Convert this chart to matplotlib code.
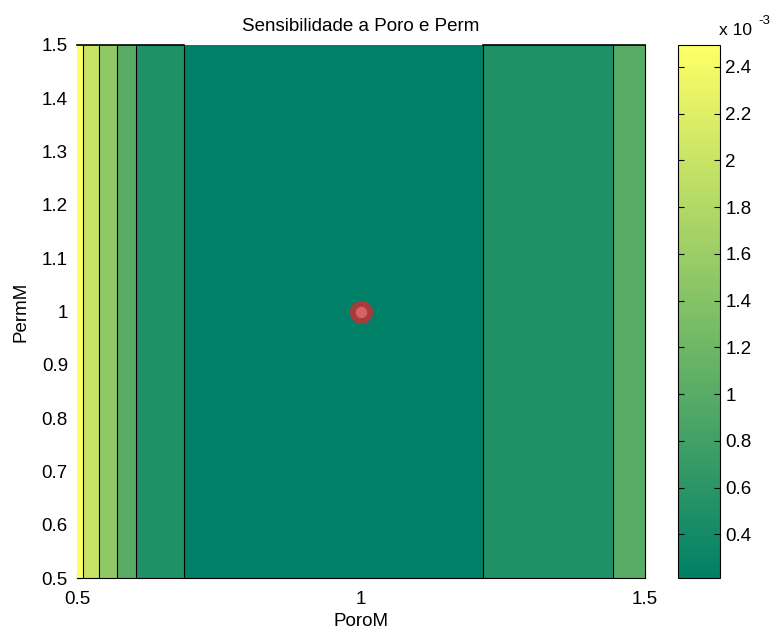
import numpy as np
import matplotlib
matplotlib.use("Agg")
import matplotlib.pyplot as plt
from matplotlib.colors import Normalize
from matplotlib.cm import ScalarMappable

plt.rcParams['font.family'] = ['Liberation Sans', 'DejaVu Sans']

# misfit (x 1e-3) as a function of PoroM, constant along PermM
poro = [0.5, 0.52, 0.54, 0.56, 0.58, 0.6, 0.65, 0.7, 0.8, 0.9, 1.0, 1.1, 1.2, 1.3, 1.4, 1.5]
misfit = [2.494, 2.41, 1.99, 1.72, 1.32, 1.03, 0.70, 0.44, 0.30, 0.24, 0.213, 0.28, 0.47, 0.68, 0.88, 1.15]
perm = [0.5, 1.0, 1.5]
levels = [0.5, 1.0, 1.5, 2.0, 2.45]
cbar_ticks = [0.4, 0.6, 0.8, 1.0, 1.2, 1.4, 1.6, 1.8, 2.0, 2.2, 2.4]
best = (1.0, 1.0)

vmin, vmax = min(misfit), max(misfit)
X, Y = np.meshgrid(poro, perm)
Z = np.tile(misfit, (len(perm), 1))

cmap = plt.get_cmap('summer')
norm = Normalize(vmin, vmax)
band_lo = [vmin] + levels[:-1] + [vmax]
band_colors = [cmap(norm(v)) for v in band_lo]

fs = 13.5
fig = plt.figure(figsize=(7.72, 6.32), dpi=100)
ax = fig.add_axes([0.0997, 0.0854, 0.7358, 0.8434])
ax.contourf(X, Y, Z, levels=[vmin - 1] + levels + [vmax + 1], colors=band_colors)
ax.contour(X, Y, Z, levels=levels, colors='k', linewidths=0.8)

# patch outlines along the top for the non-minimum bands
ax.plot([0.5, 0.688], [1.5, 1.5], color='k', lw=1.2, clip_on=False, zorder=3)
ax.plot([1.215, 1.5], [1.5, 1.5], color='k', lw=1.2, clip_on=False, zorder=3)

ax.plot(best[0], best[1], 'o', ms=12.5, mew=4.2, mfc=(0.83, 0.39, 0.39),
        mec=(0.66, 0.23, 0.23), zorder=5)

ax.set_xlim(0.5, 1.5)
ax.set_ylim(0.5, 1.5)
ax.set_xticks([0.5, 1.0, 1.5])
ax.set_xticklabels(['0.5', '1', '1.5'])
yt = np.round(np.arange(0.5, 1.51, 0.1), 1)
ax.set_yticks(yt)
ax.set_yticklabels(['%g' % v for v in yt])
ax.set_axisbelow(True)
ax.tick_params(direction='in', length=4, labelsize=fs, top=False, right=False)
ax.tick_params(axis='x', pad=9)
ax.tick_params(axis='y', pad=6.5)
ax.spines['left'].set_visible(False)
ax.spines['top'].set_visible(False)
ax.set_xlabel('PoroM', fontsize=fs, labelpad=4)
ax.set_ylabel('PermM', fontsize=fs, labelpad=9)
ax.set_title('Sensibilidade a Poro e Perm', fontsize=fs, pad=10)

cax = fig.add_axes([0.878, 0.0854, 0.0544, 0.8434])
sm = ScalarMappable(norm=norm, cmap=cmap)
cb = fig.colorbar(sm, cax=cax, ticks=cbar_ticks)
cb.ax.set_yticklabels(['%g' % v for v in cbar_ticks])
cax.tick_params(direction='in', length=4, labelsize=fs, left=True, right=True,
                labelleft=False, labelright=True, pad=4)

# colorbar exponent label, drawn as MATLAB does: "x 10" with a raised "-3"
fig.text(0.931, 0.944, 'x 10', fontsize=12.5, ha='left', va='baseline')
fig.text(0.982, 0.962, '-3', fontsize=9.5, ha='left', va='baseline')

fig.savefig('out.png', dpi=100)
